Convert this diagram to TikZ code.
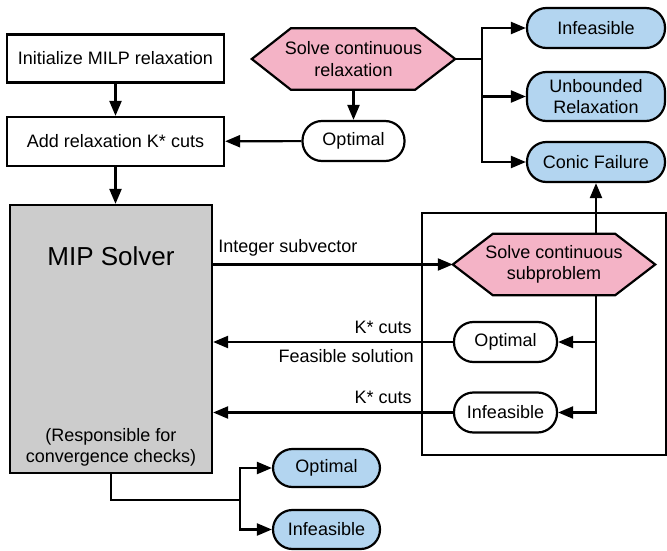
\documentclass[tikz,border=0pt]{standalone}
\usepackage{fontspec}
\setmainfont{Liberation Sans}
\usetikzlibrary{arrows.meta,backgrounds}
\definecolor{hexpink}{HTML}{F4B3C6}
\definecolor{pillblue}{HTML}{B3D5F0}
\definecolor{solvergray}{HTML}{CCCCCC}
\tikzset{
  stroke/.style={line width=2.2pt, draw=black},
  arr/.style={stroke, -{Triangle[length=15pt,width=12pt]}},
  txt/.style={font=\fontsize{18}{21.5}\selectfont, inner sep=0pt, align=center},
  stepbox/.style={txt, stroke, rectangle, minimum width=217pt, minimum height=48pt},
  pill/.style={txt, stroke, rectangle, rounded corners=19.5pt, minimum height=40pt},
  whitepill/.style={pill, fill=white, minimum width=103pt},
  bluepill/.style={pill, fill=pillblue, minimum width=138pt},
  hexlabel/.style={txt, minimum width=203pt, minimum height=61pt},
  hexshape/.style={stroke, fill=hexpink, line join=miter},
}
\begin{document}
\begin{tikzpicture}[x=1pt, y=-1pt]
\useasboundingbox (0,0) rectangle (667,551);

% left column
\node[stepbox] (init) at (115.5,58.5) {Initialize MILP relaxation};
\node[stepbox, minimum height=49pt] (add) at (115.5,141.5) {Add relaxation K* cuts};
\node[stroke, rectangle, fill=solvergray, minimum width=202pt, minimum height=268pt, inner sep=0pt] (mip) at (111,339) {};
\node[font=\fontsize{26}{30}\selectfont, inner sep=0pt] (miptitle) at (111,256) {MIP Solver};
\node[txt] (mipnote) at (111,447.5) {(Responsible for\\convergence checks)};

% continuous relaxation
\node[hexlabel] (relax) at (353.5,59) {Solve continuous\\relaxation};
\begin{scope}[on background layer]
  \path[hexshape] (relax.west) -- ([xshift=39pt]relax.north west) -- ([xshift=-40pt]relax.north east)
    -- (relax.east) -- ([xshift=-40pt]relax.south east) -- ([xshift=39pt]relax.south west) -- cycle;
\end{scope}
\node[whitepill, minimum width=102pt] (opttop) at (353.5,141) {Optimal};

\node[bluepill] (inf1) at (596,28) {Infeasible};
\node[bluepill, minimum height=49pt] (unb) at (596,96.5) {Unbounded\\Relaxation};
\node[bluepill] (conic) at (596,162) {Conic Failure};

% subproblem frame
\node[stroke, rectangle, minimum width=244pt, minimum height=242pt, inner sep=0pt] (frame) at (544,334) {};
\node[hexlabel, minimum width=202pt] (sub) at (554,264.5) {Solve continuous\\subproblem};
\begin{scope}[on background layer]
  \path[hexshape] (sub.west) -- ([xshift=40pt]sub.north west) -- ([xshift=-40pt]sub.north east)
    -- (sub.east) -- ([xshift=-40pt]sub.south east) -- ([xshift=40pt]sub.south west) -- cycle;
\end{scope}
\node[whitepill] (optsub) at (505.5,342) {Optimal};
\node[whitepill] (infsub) at (505.5,412.5) {Infeasible};

% final outcomes
\node[bluepill, minimum width=107pt, minimum height=38pt] (optend) at (326.5,468) {Optimal};
\node[bluepill, minimum width=107pt, minimum height=39pt] (infend) at (326.5,529.5) {Infeasible};

% connectors: relaxation loop
\draw[arr] (init) -- (add);
\draw[arr] (add.south) -- (add.south |- mip.north);
\draw[arr] (relax) -- (opttop);
\draw[arr] (opttop) -- (add);
\coordinate (rfork) at (482,59);
\draw[arr] (relax.east) -- (rfork) |- (inf1.west);
\draw[arr] (rfork) |- (unb.west);
\draw[arr] (rfork) |- (conic.west);

% connectors: subproblem loop
\draw[arr] (mip.east |- sub.west) -- (sub.west);
\node[txt, anchor=west] (intsub) at ([xshift=5pt, yshift=16.5pt]mip.east |- sub.west) {Integer subvector};
\draw[arr] (sub.north -| conic.south) -- (conic.south);
\coordinate (sfork) at (sub.south -| conic.south);
\draw[arr] (sfork) |- (optsub.east);
\draw[arr] (sfork) |- (infsub.east);
\draw[arr] (optsub.west) -- (optsub.west -| mip.east);
\draw[arr] (infsub.west) -- (infsub.west -| mip.east);
\node[txt, anchor=east] (cutsa) at ([xshift=-41pt, yshift=15pt]optsub.west) {K* cuts};
\node[txt, anchor=east] (feas) at ([xshift=-39pt, yshift=-14pt]optsub.west) {Feasible solution};
\node[txt, anchor=east] (cutsb) at ([xshift=-41pt, yshift=15pt]infsub.west) {K* cuts};

% connectors: termination
\coordinate (bfork) at (240,500);
\draw[arr] (mip.south) |- (bfork) |- (optend.west);
\draw[arr] (bfork) |- (infend.west);
\end{tikzpicture}
\end{document}
